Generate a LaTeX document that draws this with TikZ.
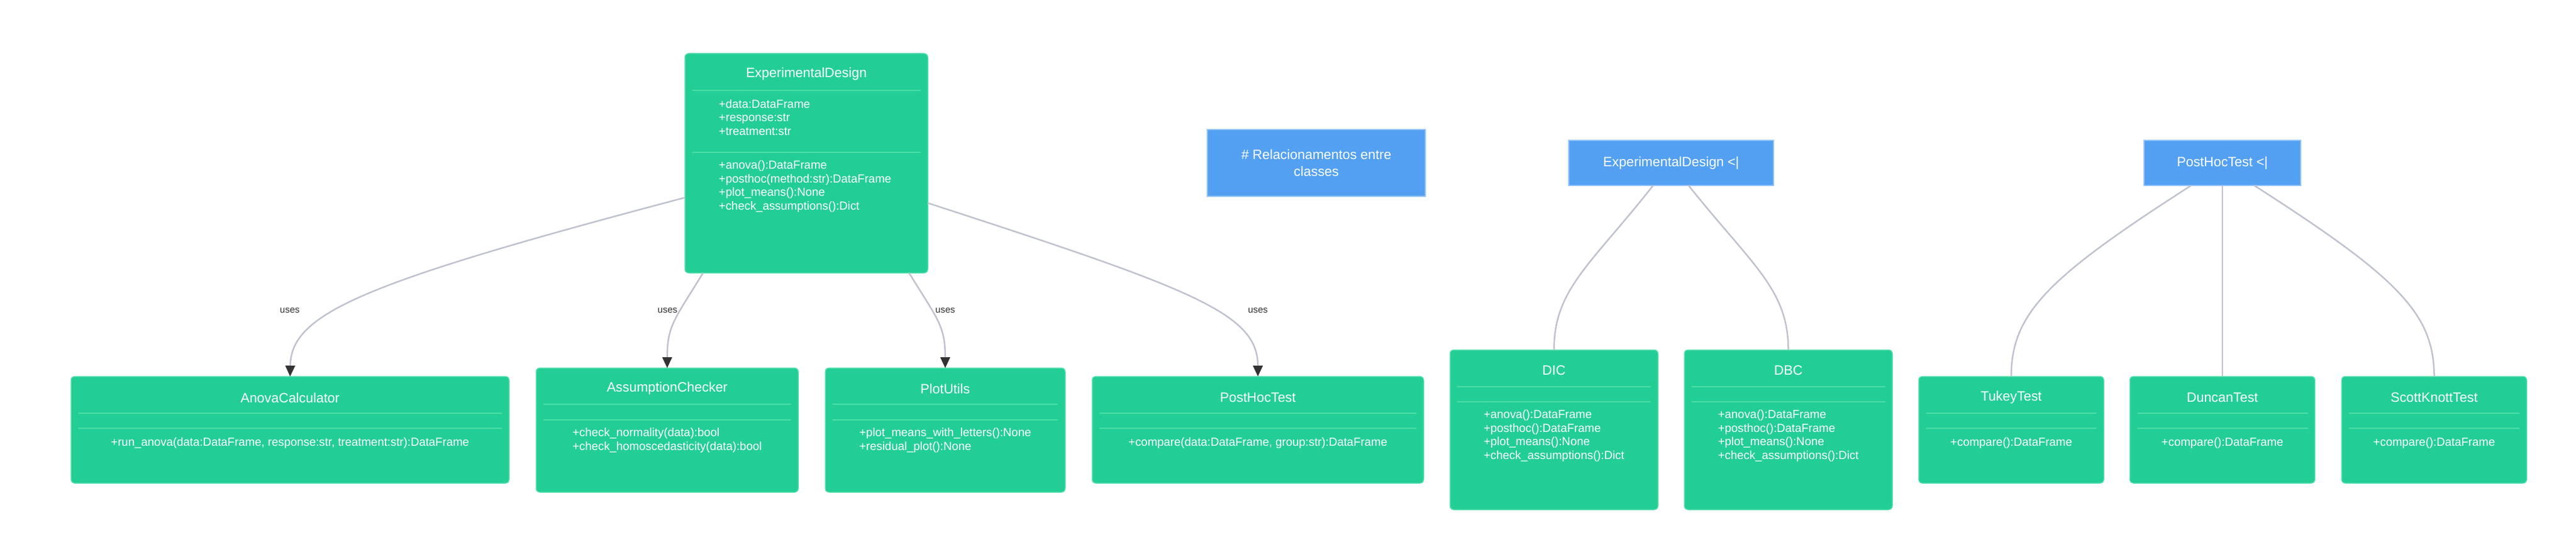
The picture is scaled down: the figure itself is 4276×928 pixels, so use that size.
\documentclass[tikz,border=0pt]{standalone}
\usepackage{fontspec}
\setmainfont{Liberation Sans}
\usepackage{tikz}
\usetikzlibrary{arrows.meta}
\definecolor{ClassGreen}{RGB}{35,206,150}
\definecolor{SepGreen}{RGB}{78,222,168}
\definecolor{NoteBlue}{RGB}{83,160,242}
\definecolor{NoteBorder}{RGB}{150,196,250}
\definecolor{EdgeGray}{RGB}{190,194,206}
\definecolor{ArrowDark}{RGB}{51,51,51}
\tikzset{%
  ClassBox/.style={draw=SepGreen,line width=1.5pt,fill=ClassGreen,rounded corners=6pt,inner sep=0pt,outer sep=0pt},
  ClassTitle/.style={text=white,font=\fontsize{22.4}{26}\selectfont,inner sep=0pt},
  ClassMembers/.style={text=white,font=\fontsize{19.4}{22.5}\selectfont,align=left,inner sep=0pt},
  NoteBox/.style={draw=NoteBorder,line width=1.5pt,fill=NoteBlue,inner sep=0pt,outer sep=0pt,text=white,font=\fontsize{22.4}{28}\selectfont,align=center},
  SepLine/.style={draw=SepGreen,line width=2pt},
  EdgeLine/.style={draw=EdgeGray,line width=2.5pt},
  UsesArrow/.style={EdgeLine,-{Triangle[length=18pt,width=16pt,color=ArrowDark]}},
  UsesLabel/.style={text=ArrowDark,font=\fontsize{15.5}{18}\selectfont,inner sep=0pt}
}

\begin{document}
\begin{tikzpicture}[x=1pt,y=-1pt]
\fill [white] (0,0) rectangle (4276,928);
\useasboundingbox (0,0) rectangle (4276,928);

% class boxes
\node (ed) [ClassBox,minimum width=403pt,minimum height=364pt] at (1338.5,271) {};
\node (anova) [ClassBox,minimum width=727pt,minimum height=177pt] at (481.5,713.5) {};
\node (assump) [ClassBox,minimum width=435pt,minimum height=206pt] at (1107.5,714) {};
\node (plotu) [ClassBox,minimum width=398pt,minimum height=206pt] at (1569,714) {};
\node (posthoc) [ClassBox,minimum width=550pt,minimum height=177pt] at (2088,713.5) {};
\node (dic) [ClassBox,minimum width=345pt,minimum height=265pt] at (2579.5,713.5) {};
\node (dbc) [ClassBox,minimum width=345pt,minimum height=265pt] at (2968.5,713.5) {};
\node (tukey) [ClassBox,minimum width=307pt,minimum height=177pt] at (3338.5,713.5) {};
\node (duncan) [ClassBox,minimum width=307pt,minimum height=177pt] at (3689,713.5) {};
\node (scott) [ClassBox,minimum width=307pt,minimum height=177pt] at (4040.5,713.5) {};

\foreach \n/\ya/\yb in {ed/150/253,anova/686/711,assump/671/697,plotu/671/697,posthoc/686/711,
    dic/642/667,dbc/642/667,tukey/686/711,duncan/686/711,scott/686/711} {
    \draw [SepLine] ([xshift=12pt]\n.west |- 0,\ya) -- ([xshift=-12pt]\n.east |- 0,\ya);
    \draw [SepLine] ([xshift=12pt]\n.west |- 0,\yb) -- ([xshift=-12pt]\n.east |- 0,\yb);
}

% titles and members
\node (edT) [ClassTitle] at (1338.5,123) {ExperimentalDesign};
\node (edA) [ClassMembers,anchor=west] at (1193,195) {+data:DataFrame\\+response:str\\+treatment:str};
\node (edM) [ClassMembers,anchor=west] at (1193,309.5) {+anova():DataFrame\\+posthoc(method:str):DataFrame\\+plot\_means():None\\+check\_assumptions():Dict};
\node (anovaT) [ClassTitle] at (481.5,660) {AnovaCalculator};
\node (anovaM) [ClassMembers] at (481.5,735) {+run\_anova(data:DataFrame, response:str, treatment:str):DataFrame};
\node (assumpT) [ClassTitle] at (1107.5,645) {AssumptionChecker};
\node (assumpM) [ClassMembers] at (1107.5,731) {+check\_normality(data):bool\\+check\_homoscedasticity(data):bool};
\node (plotuT) [ClassTitle] at (1569,645) {PlotUtils};
\node (plotuM) [ClassMembers] at (1569,731) {+plot\_means\_with\_letters():None\\+residual\_plot():None};
\node (posthocT) [ClassTitle] at (2088,660) {PostHocTest};
\node (posthocM) [ClassMembers] at (2088,735) {+compare(data:DataFrame, group:str):DataFrame};
\node (dicT) [ClassTitle] at (2579.5,615) {DIC};
\node (dicM) [ClassMembers] at (2579.5,723.5) {+anova():DataFrame\\+posthoc():DataFrame\\+plot\_means():None\\+check\_assumptions():Dict};
\node (dbcT) [ClassTitle] at (2968.5,615) {DBC};
\node (dbcM) [ClassMembers] at (2968.5,723.5) {+anova():DataFrame\\+posthoc():DataFrame\\+plot\_means():None\\+check\_assumptions():Dict};
\node (tukeyT) [ClassTitle] at (3338.5,660) {TukeyTest};
\node (tukeyM) [ClassMembers] at (3338.5,735) {+compare():DataFrame};
\node (duncanT) [ClassTitle] at (3689,660) {DuncanTest};
\node (duncanM) [ClassMembers] at (3689,735) {+compare():DataFrame};
\node (scottT) [ClassTitle] at (4040.5,660) {ScottKnottTest};
\node (scottM) [ClassMembers] at (4040.5,735) {+compare():DataFrame};

% blue boxes
\node (rel) [NoteBox,minimum width=362pt,minimum height=111pt] at (2185,270.5) {\# Relacionamentos entre\\classes};
\node (edinh) [NoteBox,minimum width=340pt,minimum height=75pt] at (2774,270.5) {ExperimentalDesign <|};
\node (phinh) [NoteBox,minimum width=260pt,minimum height=75pt] at (3689,270.5) {PostHocTest <|};

% uses
\draw [UsesArrow] ([yshift=-57pt]ed.west) .. controls (600,470) and (483,520) .. (anova.north);
\draw [UsesArrow] ([xshift=-171.5pt]ed.south) .. controls (1120,530) and (1107.5,540) .. (assump.north);
\draw [UsesArrow] ([xshift=170.5pt]ed.south) .. controls (1556,530) and (1569,540) .. (plotu.north);
\draw [UsesArrow] ([yshift=-66pt]ed.east) .. controls (1980,480) and (2088,520) .. (posthoc.north);
\node (uses1) [UsesLabel] at (481,515) {uses};
\node (uses2) [UsesLabel] at (1108,515) {uses};
\node (uses3) [UsesLabel] at (1569,515) {uses};
\node (uses4) [UsesLabel] at (2088,515) {uses};

% inheritance
\draw [EdgeLine] ([xshift=-30pt]edinh.south) .. controls (2640,440) and (2579.5,480) .. (dic.north);
\draw [EdgeLine] ([xshift=29pt]edinh.south) .. controls (2908,440) and (2968.5,480) .. (dbc.north);
\draw [EdgeLine] ([xshift=-52pt]phinh.south) .. controls (3400,460) and (3338.5,520) .. (tukey.north);
\draw [EdgeLine] (phinh.south) -- (duncan.north);
\draw [EdgeLine] ([xshift=53pt]phinh.south) .. controls (3979,460) and (4040.5,520) .. (scott.north);
\end{tikzpicture}
\end{document}
